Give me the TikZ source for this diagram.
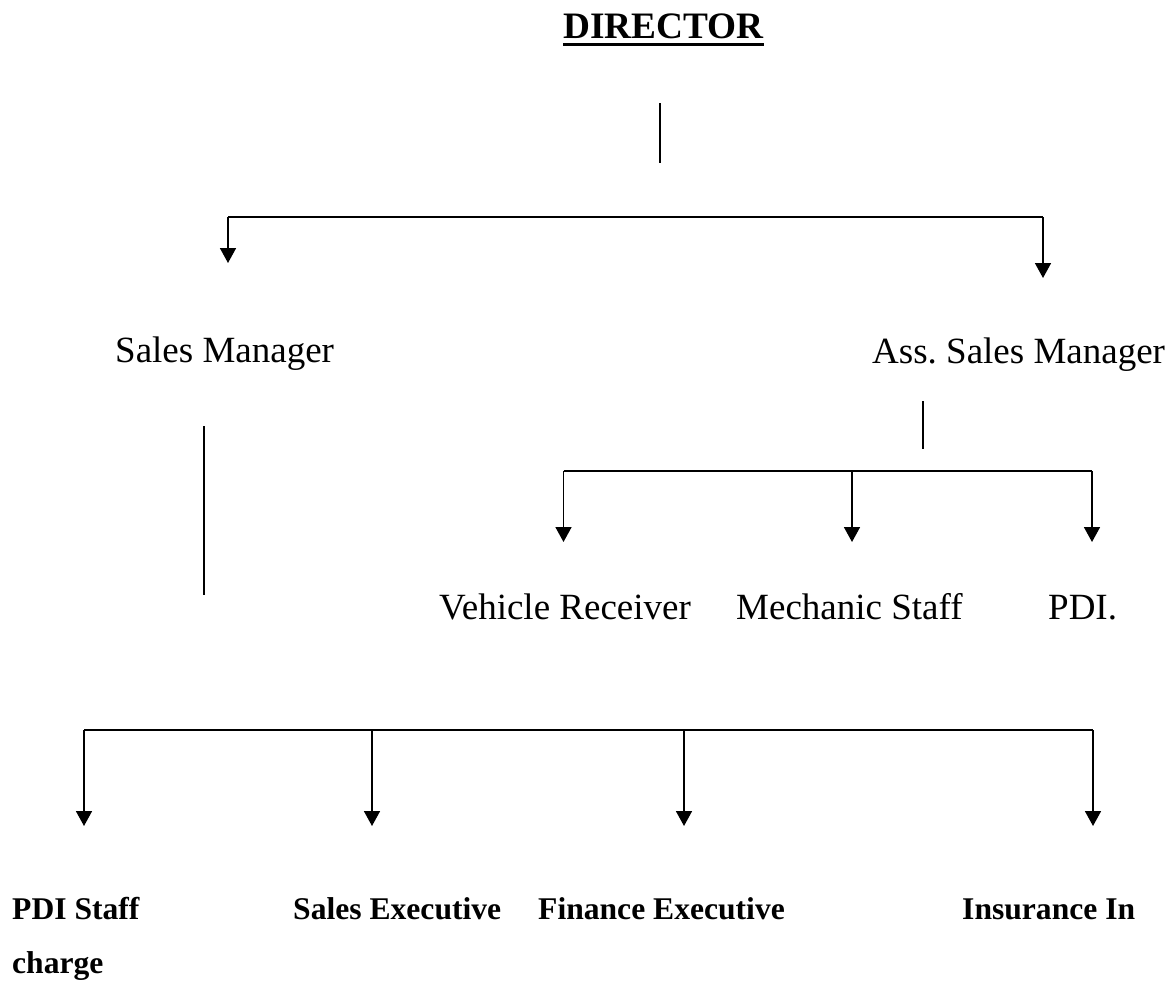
\documentclass[tikz,border=0pt]{standalone}
\usepackage{fontspec}
\setmainfont{Liberation Serif}
\usetikzlibrary{arrows.meta}
\frenchspacing
\begin{document}
\begin{tikzpicture}[x=1pt,y=-1pt,
  wire/.style={line width=1.7pt},
  feed/.style={wire,-{Triangle[width=16pt,length=15pt]}},
  head/.style={font=\fontsize{37.3}{44}\selectfont\bfseries, inner sep=0pt, anchor=base west},
  role/.style={font=\fontsize{37}{44}\selectfont, inner sep=0pt, anchor=base west},
  staff/.style={font=\fontsize{31.6}{40}\selectfont\bfseries, inner sep=0pt, anchor=base west}]
\useasboundingbox (0,0) rectangle (1170,982);

% titles
\node[head] (dir) at (563,39) {DIRECTOR};
\draw[line width=3.2pt] ([yshift=-5.5pt]dir.base west) -- ([yshift=-5.5pt]dir.base east);

\node[role] (sm)  at (115,362) {Sales Manager};
\node[role] (asm) at (872,363) {Ass.\ Sales Manager};

\node[role] (vr)  at (439,619) {Vehicle Receiver};
\node[role] (ms)  at (736,619) {Mechanic Staff};
\node[role] (pdi) at (1048,619) {PDI.};

\node[staff] (pdis) at (12,919)  {PDI Staff};
\node[staff] (pdic) at (12,973)  {charge};
\node[staff] (se)   at (293,919) {Sales Executive};
\node[staff] (fe)   at (538,919) {Finance Executive};
\node[staff] (ins)  at (962,919) {Insurance In};

% line end points
\coordinate (d1) at (660,103);
\coordinate (d2) at (660,163);
\coordinate (t1) at (228,217);
\coordinate (t2) at (1043,217);
\coordinate (t1e) at (228,263);
\coordinate (t2e) at (1043,278);

\coordinate (s1) at (204,426);
\coordinate (s2) at (204,595);

\coordinate (a1) at (923,401);
\coordinate (a2) at (923,449);
\coordinate (m1) at (563.5,471);
\coordinate (m2) at (852,471);
\coordinate (m3) at (1092,471);
\coordinate (m1e) at (563.5,542);
\coordinate (m2e) at (852,542);
\coordinate (m3e) at (1092,542);

\coordinate (b1) at (84,730);
\coordinate (b2) at (372,730);
\coordinate (b3) at (684,730);
\coordinate (b4) at (1093,730);
\coordinate (b1e) at (84,826);
\coordinate (b2e) at (372,826);
\coordinate (b3e) at (684,826);
\coordinate (b4e) at (1093,826);

% director level
\draw[wire] (d1) -- (d2);
\draw[wire] (t1) -- (t2);
\draw[feed] (t1) -- (t1e);
\draw[feed] (t2) -- (t2e);

% sales manager branch
\draw[wire] (s1) -- (s2);
\draw[wire] (b1) -- (b4);
\draw[feed] (b1) -- (b1e);
\draw[feed] (b2) -- (b2e);
\draw[feed] (b3) -- (b3e);
\draw[feed] (b4) -- (b4e);

% assistant sales manager branch
\draw[wire] (a1) -- (a2);
\draw[wire] (m1) -- (m3);
\draw[feed] (m1) -- (m1e);
\draw[feed] (m2) -- (m2e);
\draw[feed] (m3) -- (m3e);
\end{tikzpicture}
\end{document}
